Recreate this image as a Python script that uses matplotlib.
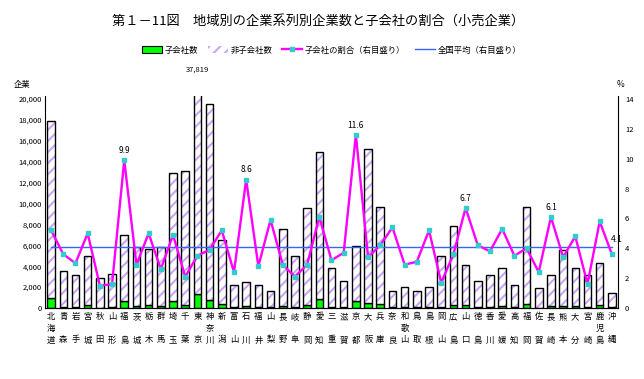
"""Chart: companies by region and group, with share of subsidiaries (retail)."""

import numpy as np
import matplotlib.pyplot as plt
from matplotlib.patches import Patch
from matplotlib.lines import Line2D

plt.rcParams['font.family'] = ['Noto Sans CJK JP', 'DejaVu Sans']

prefectures = [
    "北海道", "青森", "岩手", "宮城", "秋田", "山形", "福島", "茨城", "栃木", "群馬",
    "埼玉", "千葉", "東京", "神奈川", "新潟", "富山", "石川", "福井", "山梨", "長野",
    "岐阜", "静岡", "愛知", "三重", "滋賀", "京都", "大阪", "兵庫", "奈良", "和歌山",
    "鳥取", "島根", "岡山", "広島", "山口", "徳島", "香川", "愛媛", "高知", "福岡",
    "佐賀", "長崎", "熊本", "大分", "宮崎", "鹿児島", "沖縄",
]

# 子会社数
subsidiaries = [
    950, 130, 100, 250, 40, 50, 690, 170, 280, 150,
    630, 280, 1340, 760, 340, 55, 215, 65, 95, 220,
    100, 275, 910, 120, 95, 690, 520, 400, 90, 60,
    50, 105, 85, 285, 275, 110, 120, 205, 80, 380,
    45, 195, 185, 185, 50, 245, 55,
]

# 非子会社数
non_subsidiaries = [
    16950, 3440, 3090, 4750, 2860, 3230, 6290, 5680, 5390, 5650,
    12300, 12780, 36479, 18760, 6190, 2175, 2305, 2165, 1525, 7360,
    4840, 9315, 14030, 3730, 2515, 5270, 14710, 9280, 1570, 1980,
    1540, 1935, 4915, 7515, 3865, 2500, 3070, 3645, 2150, 9300,
    1895, 2995, 5385, 3665, 3140, 4025, 1410,
]

# 子会社の割合 (%)
share = [
    5.2, 3.6, 3.0, 5.0, 1.5, 1.6, 9.9, 2.9, 5.0, 2.6,
    4.9, 2.1, 3.5, 3.9, 5.2, 2.4, 8.6, 2.8, 5.9, 2.9,
    2.1, 2.9, 6.1, 3.2, 3.7, 11.6, 3.4, 4.2, 5.4, 2.9,
    3.1, 5.2, 1.7, 3.6, 6.7, 4.2, 3.8, 5.3, 3.5, 4.0,
    2.4, 6.1, 3.4, 4.8, 1.6, 5.8, 3.6,
]

national_avg = 4.1
labelled = ["福島", "石川", "京都", "山口", "長崎"]

HATCH_COLOR = "#c9a6f4"
GREEN = "#00ff00"
PINK = "#ff00ff"
CYAN = "#33cccc"
BLUE = "#3366ff"

plt.rcParams['hatch.linewidth'] = 1.5

fig = plt.figure(figsize=(6.44, 3.79), dpi=100)
ax = fig.add_axes([0.0699, 0.1873, 0.8897, 0.5599])

x = np.arange(len(prefectures))
w = 0.62
ymax = 20300

ax.bar(x, subsidiaries, w, color=GREEN, edgecolor="black", linewidth=1.0, zorder=2)
ax.bar(x, non_subsidiaries, w, bottom=subsidiaries, color="white",
       edgecolor=HATCH_COLOR, hatch="///", linewidth=0, zorder=2)
ax.bar(x, non_subsidiaries, w, bottom=subsidiaries, fill=False,
       edgecolor="black", linewidth=1.0, zorder=3)

ax.set_xlim(-0.5, len(prefectures) - 0.5)
ax.set_ylim(0, ymax)
ax.set_yticks(range(0, 20001, 2000))
ax.set_yticklabels([f"{v:,}" for v in range(0, 20001, 2000)], fontsize=5.5)

# vertical prefecture labels, two-character names skip the middle row
xt = []
for name in prefectures:
    if len(name) == 2:
        xt.append(name[0] + "\n\n" + name[1])
    else:
        xt.append("\n".join(name))
ax.set_xticks(x)
ax.set_xticklabels(xt, fontsize=6, linespacing=1.38)
ax.tick_params(axis="x", length=0, pad=3)
ax.tick_params(axis="y", length=0, pad=2)

ax.spines["top"].set_visible(False)
ax.spines["right"].set_visible(False)

ax2 = ax.twinx()
ax2.set_ylim(0, 14 * ymax / 20000)
ax2.set_yticks(range(0, 15, 2))
ax2.set_yticklabels([str(v) for v in range(0, 15, 2)], fontsize=5.5)
ax2.tick_params(axis="y", length=0, pad=5)
ax2.spines["top"].set_visible(False)
ax2.spines["left"].set_visible(False)

ax2.plot([x[0], x[-1]], [national_avg, national_avg], color=BLUE, linewidth=1.0, zorder=4)
ax2.plot(x, share, color=PINK, linewidth=1.7, marker="s", markersize=2.8,
         markerfacecolor=CYAN, markeredgecolor=CYAN, zorder=5)

for name in labelled:
    i = prefectures.index(name)
    ax2.text(x[i], share[i] + 0.35, f"{share[i]}", ha="center", va="bottom", fontsize=6)
ax2.text(x[-1] - 0.1, national_avg + 0.2, f"{national_avg}", ha="left", va="bottom", fontsize=6)

# Tokyo value above the clipped bar
tokyo = prefectures.index("東京")
ax.text(x[tokyo], ymax + 2100, f"{subsidiaries[tokyo] + non_subsidiaries[tokyo]:,}",
        ha="center", va="bottom", fontsize=5.5)

ax.text(-0.04, 1.03, "企業", transform=ax.transAxes, ha="center", va="bottom", fontsize=6)
ax2.text(1.005, 1.03, "%", transform=ax2.transAxes, ha="center", va="bottom", fontsize=6)

fig.text(0.494, 0.945, "第１－11図　地域別の企業系列別企業数と子会社の割合（小売企業）",
         ha="center", va="center", fontsize=9.5)

handles = [
    Patch(facecolor=GREEN, edgecolor="black", linewidth=0.8),
    Patch(facecolor="white", edgecolor=HATCH_COLOR, hatch="///", linewidth=0),
    Line2D([], [], color=PINK, linewidth=1.7, marker="s", markersize=2.8,
           markerfacecolor=CYAN, markeredgecolor=CYAN),
    Line2D([], [], color=BLUE, linewidth=1.0),
]
labels = ["子会社数", "非子会社数", "子会社の割合（右目盛り）", "全国平均（右目盛り）"]
fig.legend(handles, labels, loc="center", bbox_to_anchor=(0.515, 0.868), ncol=4,
           frameon=False, fontsize=6, handlelength=2.4, handleheight=0.8,
           columnspacing=1.2, handletextpad=0.3)

fig.savefig("out.png", dpi=100)
